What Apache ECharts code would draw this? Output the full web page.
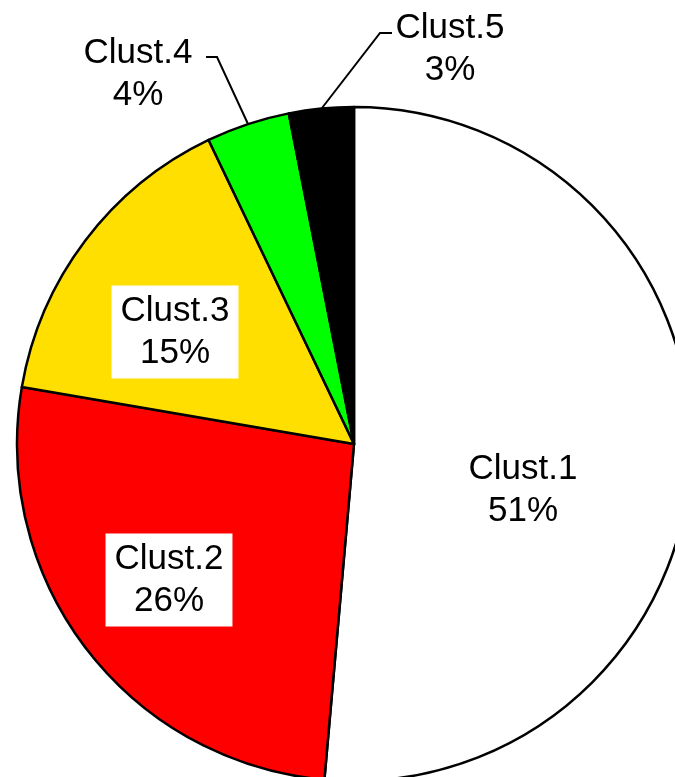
<!DOCTYPE html>
<html>
<head>
<meta charset="utf-8">
<script src="https://cdn.jsdelivr.net/npm/echarts@6/dist/echarts.min.js"></script>
<style>
html,body{margin:0;padding:0;background:#fff;}
#chart{width:675px;height:777px;}
</style>
</head>
<body>
<div id="chart"></div>
<script>
const categories = ['Clust.1', 'Clust.2', 'Clust.3', 'Clust.4', 'Clust.5'];
const values = [51.4, 26.3, 15.2, 4.0, 3.1];
const colors = ['#ffffff', '#ff0000', '#ffdf00', '#00ff00', '#000000'];

const total = values.reduce((a, b) => a + b, 0);
const chart = echarts.init(document.getElementById('chart'));

// label anchor positions (layout only)
const labelPos = [[523, 490], [169, 580], [175, 332], [138, 74], [450, 49]];
const leaderPts = {
  3: [[248, 124], [217, 57], [206, 57]],
  4: [[322, 108], [380, 33], [392, 33]]
};

const data = categories.map((c, i) => ({
  name: c,
  value: values[i],
  itemStyle: { color: colors[i] },
  label: (i === 1 || i === 2) ? { backgroundColor: '#ffffff', padding: [5, 9, 4, 9] } : {},
  labelLine: { show: i >= 3 }
}));

chart.setOption({
  animation: false,
  series: [{
    type: 'pie',
    center: [354, 444],
    radius: 337,
    startAngle: 90,
    clockwise: true,
    avoidLabelOverlap: false,
    itemStyle: { borderColor: '#000', borderWidth: 2.5 },
    label: {
      show: true,
      position: 'outside',
      fontFamily: 'Liberation Sans, Arial, sans-serif',
      fontSize: 35,
      lineHeight: 42,
      color: '#000',
      align: 'center',
      formatter: p => p.name + '\n' + Math.round(p.value / total * 100) + '%'
    },
    labelLine: {
      show: true,
      lineStyle: { color: '#000', width: 2 }
    },
    labelLayout: function (params) {
      const i = params.dataIndex;
      const p = labelPos[i];
      const r = { x: p[0], y: p[1], align: 'center', verticalAlign: 'middle' };
      if (leaderPts[i]) r.labelLinePoints = leaderPts[i];
      return r;
    },
    emphasis: { disabled: true },
    data: data
  }]
});
</script>
</body>
</html>
